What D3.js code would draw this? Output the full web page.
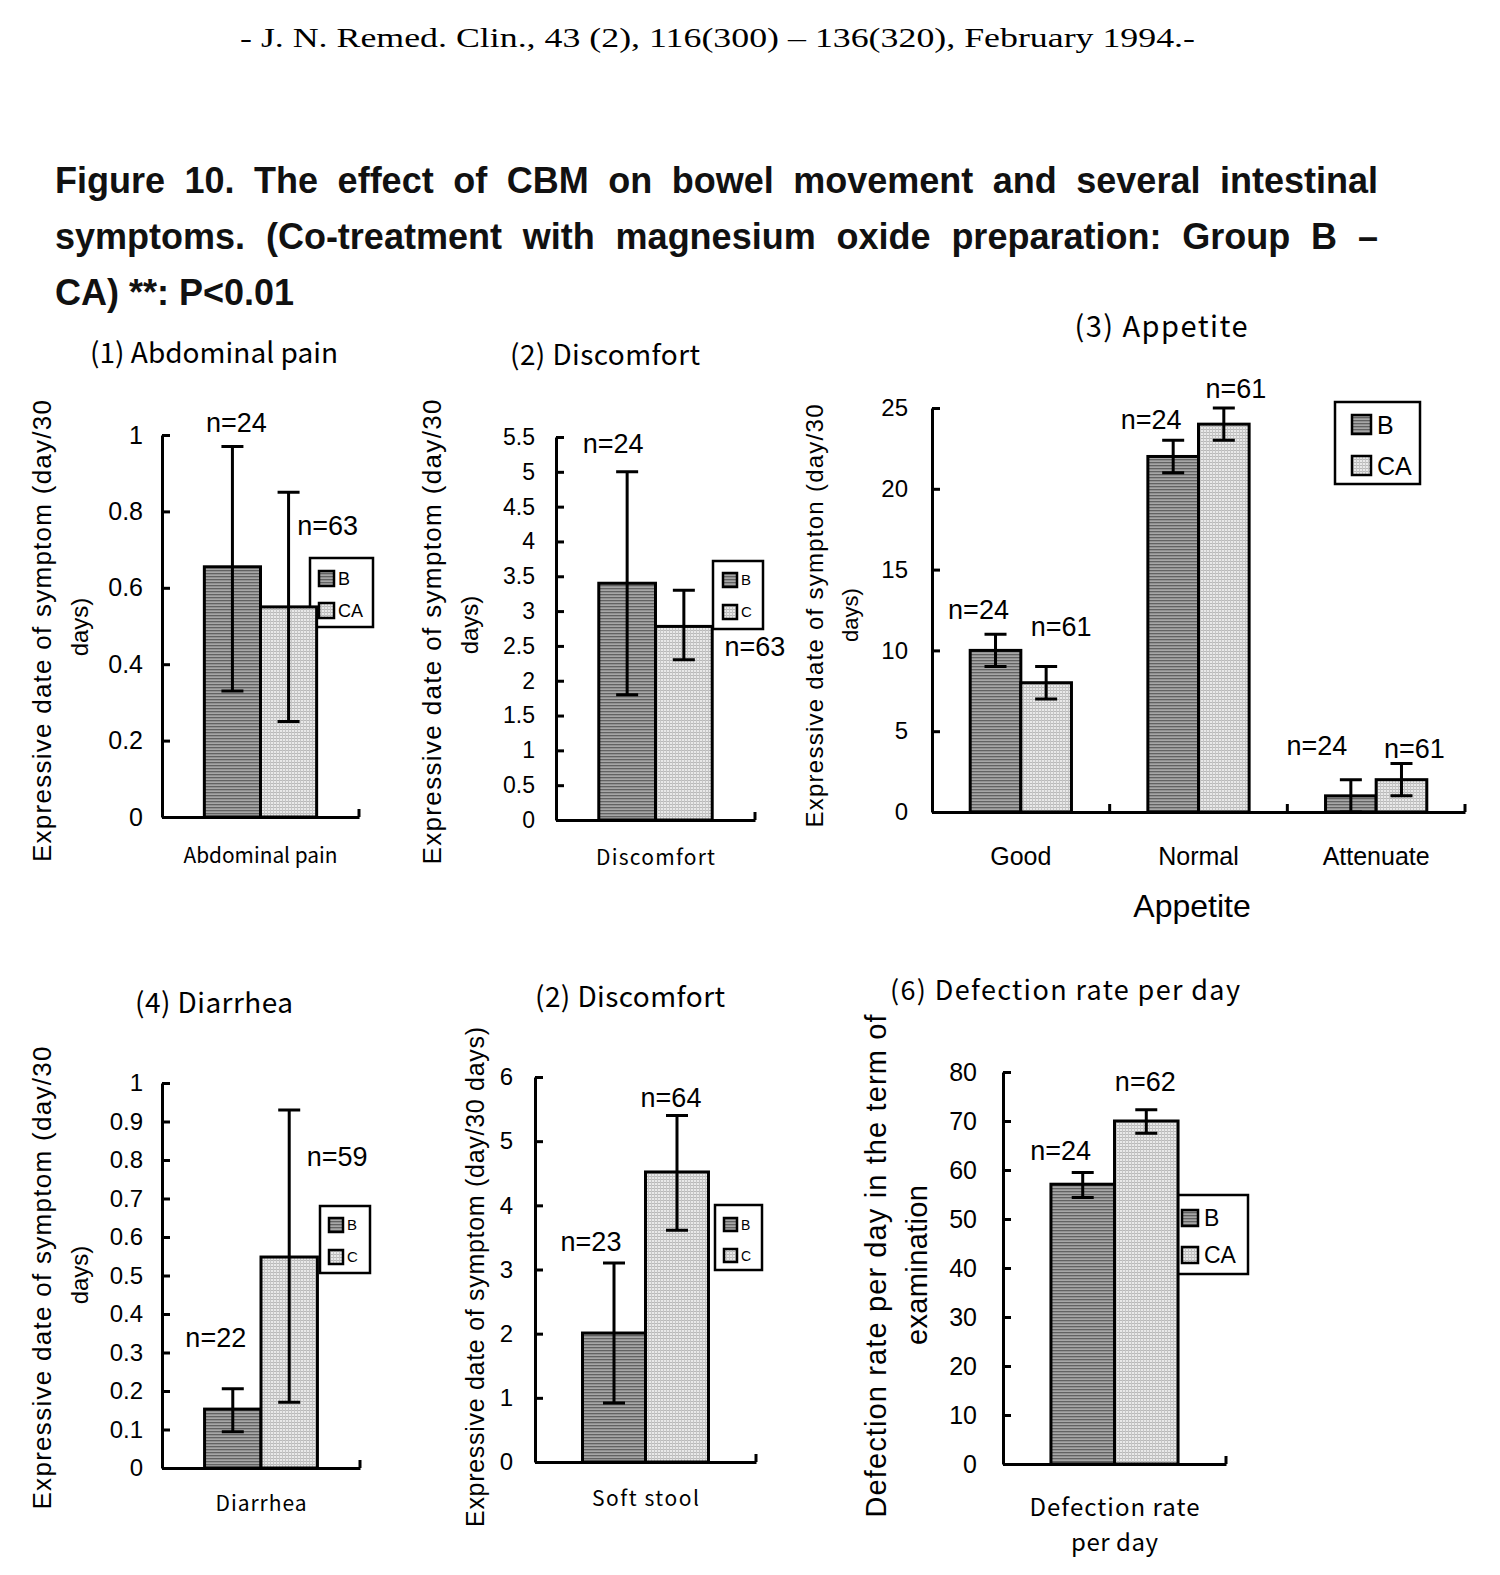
<!DOCTYPE html>
<html><head><meta charset="utf-8">
<script src="https://cdn.jsdelivr.net/npm/d3@7"></script>
<style>body{margin:0;background:#fff}</style>
</head><body>
<svg id="c" width="1500" height="1575" xmlns="http://www.w3.org/2000/svg"></svg>
<script>
// ---------------- DATA ----------------
const headerText = "- J. N. Remed. Clin., 43 (2), 116(300) – 136(320), February 1994.-";
const titleLines = [
  "Figure 10. The effect of CBM on bowel movement and several intestinal",
  "symptoms. (Co-treatment with magnesium oxide preparation: Group B –",
  "CA) **: P<0.01"
];
const seriesKeys = ["B", "CA"];
const legendLabelsLong = ["B", "CA"];
const legendLabelsShort = ["B", "C"];

// (1) Abdominal pain
const abdominalCategories = ["Abdominal pain"];
const abdominalB = [0.655], abdominalCA = [0.55];
const abdominalBLow = [0.33], abdominalBHigh = [0.97];
const abdominalCALow = [0.25], abdominalCAHigh = [0.85];
const abdominalBN = ["n=24"], abdominalCAN = ["n=63"];
const abdominalTicks = [0, 0.2, 0.4, 0.6, 0.8, 1];

// (2) Discomfort
const discomfortCategories = ["Discomfort"];
const discomfortB = [3.4], discomfortCA = [2.78];
const discomfortBLow = [1.8], discomfortBHigh = [5.0];
const discomfortCALow = [2.3], discomfortCAHigh = [3.3];
const discomfortBN = ["n=24"], discomfortCAN = ["n=63"];
const discomfortTicks = [0, 0.5, 1, 1.5, 2, 2.5, 3, 3.5, 4, 4.5, 5, 5.5];

// (3) Appetite
const appetiteCategories = ["Good", "Normal", "Attenuate"];
const appetiteB = [10, 22, 1], appetiteCA = [8, 24, 2];
const appetiteBLow = [9, 21, 0], appetiteBHigh = [11, 23, 2];
const appetiteCALow = [7, 23, 1], appetiteCAHigh = [9, 25, 3];
const appetiteBN = ["n=24", "n=24", "n=24"], appetiteCAN = ["n=61", "n=61", "n=61"];
const appetiteTicks = [0, 5, 10, 15, 20, 25];

// (4) Diarrhea
const diarrheaCategories = ["Diarrhea"];
const diarrheaB = [0.153], diarrheaCA = [0.548];
const diarrheaBLow = [0.094], diarrheaBHigh = [0.206];
const diarrheaCALow = [0.171], diarrheaCAHigh = [0.93];
const diarrheaBN = ["n=22"], diarrheaCAN = ["n=59"];
const diarrheaTicks = [0, 0.1, 0.2, 0.3, 0.4, 0.5, 0.6, 0.7, 0.8, 0.9, 1];

// (5) Soft stool
const softCategories = ["Soft stool"];
const softB = [2.01], softCA = [4.52];
const softBLow = [0.92], softBHigh = [3.1];
const softCALow = [3.61], softCAHigh = [5.4];
const softBN = ["n=23"], softCAN = ["n=64"];
const softTicks = [0, 1, 2, 3, 4, 5, 6];

// (6) Defection rate
const defectionCategories = ["Defection rate per day"];
const defectionB = [57.1], defectionCA = [70.0];
const defectionBLow = [54.4], defectionBHigh = [59.5];
const defectionCALow = [67.5], defectionCAHigh = [72.3];
const defectionBN = ["n=24"], defectionCAN = ["n=62"];
const defectionTicks = [0, 10, 20, 30, 40, 50, 60, 70, 80];

// ---------------- DRAWING ----------------
const svg = d3.select("#c");
const SANS = "'Liberation Sans', Arial, sans-serif";
const JP = "'Noto Sans CJK JP', 'Noto Sans', sans-serif";
const defs = svg.append("defs");
const pB = defs.append("pattern").attr("id", "patB").attr("patternUnits", "userSpaceOnUse").attr("width", 3).attr("height", 3);
pB.append("rect").attr("width", 3).attr("height", 3).attr("fill", "#a6a6a6");
pB.append("rect").attr("width", 3).attr("height", 1.3).attr("fill", "#626262");
const pC = defs.append("pattern").attr("id", "patC").attr("patternUnits", "userSpaceOnUse").attr("width", 3).attr("height", 3);
pC.append("rect").attr("width", 3).attr("height", 3).attr("fill", "#e9e9e9");
pC.append("rect").attr("width", 3).attr("height", 1).attr("fill", "#b9b9b9");
pC.append("rect").attr("width", 1).attr("height", 3).attr("fill", "#c6c6c6");
const patterns = ["patB", "patC"];

svg.append("rect").attr("width", 1500).attr("height", 1575).attr("fill", "#fff");

// header
svg.append("text").attr("x", 240).attr("y", 47).attr("font-family", "'Liberation Serif', 'DejaVu Serif', serif")
  .attr("font-size", 28).attr("textLength", 955).attr("lengthAdjust", "spacingAndGlyphs").text(headerText);

// title (justified lines 1 & 2)
const titleBase = [193, 249, 305];
titleLines.forEach((t, i) => {
  const el = svg.append("text").attr("x", 55).attr("y", titleBase[i]).attr("font-family", SANS)
    .attr("font-weight", "bold").attr("font-size", 36).attr("fill", "#111").text(t);
  if (i < 2) {
    const w = el.node().getComputedTextLength();
    const spaces = (t.match(/ /g) || []).length;
    const ws = (1323 - w) / spaces;
    if (ws > 0) el.attr("word-spacing", ws.toFixed(2));
    else el.attr("textLength", 1323).attr("lengthAdjust", "spacingAndGlyphs");
  }
});

function fitText(el, len) {
  if (!len) return;
  const w = el.node().getComputedTextLength();
  if (w < len) el.attr("textLength", len).attr("lengthAdjust", "spacing");
  else el.attr("textLength", len).attr("lengthAdjust", "spacingAndGlyphs");
}

function rotLabel(g, x, y, txt, fs, len) {
  const el = g.append("text").attr("transform", `translate(${x},${y}) rotate(-90)`).attr("dy", "0.35em")
    .attr("text-anchor", "middle").attr("font-family", SANS).attr("font-size", fs).text(txt);
  fitText(el, len);
}

function drawChart(c) {
  const g = svg.append("g");
  const y = d3.scaleLinear().domain([0, c.ticks[c.ticks.length - 1]]).range([c.yBot, c.yTop]);
  const x0 = d3.scaleBand().domain(c.categories).range([c.xL, c.xR]).paddingInner(0.43).paddingOuter(0.215);
  const x1 = d3.scaleBand().domain(seriesKeys).range([0, x0.bandwidth()]);

  // subtitle
  const st = g.append("text").attr("x", c.title[1]).attr("y", c.title[2]).attr("dy", "0.36em").attr("text-anchor", "middle")
    .attr("font-family", JP).attr("font-size", c.title[3]).text(c.title[0]);
  fitText(st, c.title[4]);

  // legend (drawn under bars)
  const L = c.legend;
  g.append("rect").attr("x", L.x).attr("y", L.y).attr("width", L.w).attr("height", L.h)
    .attr("fill", "#fff").attr("stroke", "#000").attr("stroke-width", 2.5);
  L.labels.forEach((lab, i) => {
    g.append("rect").attr("x", L.sx).attr("y", L.sy[i]).attr("width", L.ss).attr("height", L.ss)
      .attr("fill", `url(#${patterns[i]})`).attr("stroke", "#000").attr("stroke-width", 2.5);
    g.append("text").attr("x", L.tx).attr("y", L.sy[i] + L.ss / 2).attr("dy", "0.36em")
      .attr("font-family", SANS).attr("font-size", L.fs).text(lab);
  });

  // bars
  c.series.forEach((s, si) => {
    const rows = c.categories.map((cat, i) => ({ cat, v: s.values[i], lo: s.low[i], hi: s.high[i], n: s.n[i], off: s.off[i] }));
    const cx = d => x0(d.cat) + x1(seriesKeys[si]) + x1.bandwidth() / 2;
    g.selectAll(null).data(rows).join("rect")
      .attr("x", d => x0(d.cat) + x1(seriesKeys[si])).attr("y", d => y(d.v))
      .attr("width", x1.bandwidth()).attr("height", d => y(0) - y(d.v))
      .attr("fill", `url(#${patterns[si]})`).attr("stroke", "#000").attr("stroke-width", 3);
    // error bars
    g.selectAll(null).data(rows).join("path")
      .attr("d", d => `M${cx(d)},${y(d.lo)}V${y(d.hi)}M${cx(d) - 11},${y(d.lo)}h22M${cx(d) - 11},${y(d.hi)}h22`)
      .attr("stroke", "#000").attr("stroke-width", 3).attr("fill", "none");
    // n labels
    g.selectAll(null).data(rows).join("text")
      .attr("x", d => cx(d) + d.off[0]).attr("y", d => y(d.hi) + d.off[1]).attr("dy", "0.36em")
      .attr("text-anchor", "middle").attr("font-family", SANS).attr("font-size", c.nfs).text(d => d.n);
  });

  // y axis
  const ya = d3.axisLeft(y).tickValues(c.ticks).tickSizeInner(-8).tickSizeOuter(0).tickPadding(c.tickPad).tickFormat(d => String(d));
  const yg = g.append("g").attr("transform", `translate(${c.xL},0)`).call(ya);
  yg.selectAll("path,line").attr("stroke", "#000").attr("stroke-width", 3);
  yg.selectAll("text").attr("font-family", SANS).attr("font-size", c.tfs).attr("fill", "#000");

  // x axis
  const xa = d3.axisBottom(x0).tickSize(0).tickFormat("");
  const xg = g.append("g").attr("transform", `translate(0,${c.yBot})`).call(xa);
  xg.select("path").attr("stroke", "#000").attr("stroke-width", 3);
  xg.selectAll(".tick").remove();
  g.selectAll(null).data(c.categories).join("line")
    .attr("x1", d => x0(d) + x0.bandwidth() / 2 + x0.step() / 2).attr("x2", d => x0(d) + x0.bandwidth() / 2 + x0.step() / 2)
    .attr("y1", c.yBot).attr("y2", c.yBot - 8).attr("stroke", "#000").attr("stroke-width", 3);

  // category labels
  const lh = c.catLH || 0;
  c.categories.forEach((cat, i) => {
    const lines = c.catLines ? c.catLines[i] : [cat];
    lines.forEach((ln, j) => {
      const el = g.append("text").attr("x", x0(cat) + x0.bandwidth() / 2).attr("y", c.catY + j * lh).attr("dy", "0.36em")
        .attr("text-anchor", "middle").attr("font-family", c.catFont || JP).attr("font-size", c.cfs).text(ln);
      if (c.catLen) fitText(el, c.catLen[i][j]);
    });
  });

  // y labels
  c.ylab.forEach(l => rotLabel(g, l[1], l[2], l[0], l[3], l[4]));
  if (c.xTitle) g.append("text").attr("x", c.xTitle[1]).attr("y", c.xTitle[2]).attr("dy", "0.36em").attr("text-anchor", "middle")
    .attr("font-family", SANS).attr("font-size", c.xTitle[3]).text(c.xTitle[0]);
}

const ylabAbd = "Expressive date of symptom (day/30";

drawChart({
  categories: abdominalCategories, ticks: abdominalTicks,
  series: [
    { values: abdominalB, low: abdominalBLow, high: abdominalBHigh, n: abdominalBN, off: [[4, -24]] },
    { values: abdominalCA, low: abdominalCALow, high: abdominalCAHigh, n: abdominalCAN, off: [[39, 33]] }],
  xL: 162, xR: 359, yBot: 817, yTop: 435, tickPad: 19, tfs: 25, nfs: 27, cfs: 21, catY: 855, catLen: [[154]],
  title: ["(1) Abdominal pain", 214, 353, 28, 248],
  legend: { x: 310, y: 558, w: 63, h: 69, sx: 319, sy: [571, 603], ss: 15, tx: 338, fs: 18, labels: legendLabelsLong },
  ylab: [[ylabAbd, 42, 631, 26, 462], ["days)", 80, 627, 24]]
});

drawChart({
  categories: discomfortCategories, ticks: discomfortTicks,
  series: [
    { values: discomfortB, low: discomfortBLow, high: discomfortBHigh, n: discomfortBN, off: [[-14, -29]] },
    { values: discomfortCA, low: discomfortCALow, high: discomfortCAHigh, n: discomfortCAN, off: [[71, 56]] }],
  xL: 556, xR: 755, yBot: 820, yTop: 437, tickPad: 21, tfs: 23, nfs: 27, cfs: 21, catY: 857, catLen: [[119]],
  title: ["(2) Discomfort", 605, 355, 28, 190],
  legend: { x: 713, y: 561, w: 50, h: 68, sx: 723, sy: [573, 605], ss: 14, tx: 741, fs: 15, labels: legendLabelsShort },
  ylab: [[ylabAbd, 432, 632, 26, 465], ["days)", 470, 625, 24]]
});

drawChart({
  categories: appetiteCategories, ticks: appetiteTicks,
  series: [
    { values: appetiteB, low: appetiteBLow, high: appetiteBHigh, n: appetiteBN, off: [[-17, -25], [-22, -21], [-34, -34]] },
    { values: appetiteCA, low: appetiteCALow, high: appetiteCAHigh, n: appetiteCAN, off: [[15, -40], [12, -20], [13, -15]] }],
  xL: 932, xR: 1465, yBot: 812, yTop: 408, tickPad: 24, tfs: 24, nfs: 27, cfs: 25, catY: 856, catFont: SANS,
  title: ["(3) Appetite", 1161, 327, 29, 173],
  legend: { x: 1335, y: 402, w: 85, h: 82, sx: 1352, sy: [415, 456], ss: 19, tx: 1377, fs: 25, labels: legendLabelsLong },
  ylab: [["Expressive date of sympton (day/30", 815, 616, 24, 423], ["days)", 850, 615, 22]],
  xTitle: ["Appetite", 1192, 905, 32]
});

drawChart({
  categories: diarrheaCategories, ticks: diarrheaTicks,
  series: [
    { values: diarrheaB, low: diarrheaBLow, high: diarrheaBHigh, n: diarrheaBN, off: [[-17, -51]] },
    { values: diarrheaCA, low: diarrheaCALow, high: diarrheaCAHigh, n: diarrheaCAN, off: [[48, 46]] }],
  xL: 162, xR: 360, yBot: 1468, yTop: 1083, tickPad: 19, tfs: 24, nfs: 27, cfs: 21, catY: 1503, catLen: [[91]],
  title: ["(4) Diarrhea", 214, 1003, 28, 158],
  legend: { x: 320, y: 1206, w: 50, h: 67, sx: 329, sy: [1218, 1250], ss: 14, tx: 347, fs: 15, labels: legendLabelsShort },
  ylab: [[ylabAbd, 42, 1278, 26, 463], ["days)", 80, 1275, 24]]
});

drawChart({
  categories: softCategories, ticks: softTicks,
  series: [
    { values: softB, low: softBLow, high: softBHigh, n: softBN, off: [[-23, -22]] },
    { values: softCA, low: softCALow, high: softCAHigh, n: softCAN, off: [[-6, -18]] }],
  xL: 535, xR: 756, yBot: 1462, yTop: 1077, tickPad: 22, tfs: 24, nfs: 27, cfs: 21, catY: 1498, catLen: [[107]],
  title: ["(2) Discomfort", 630, 997, 28, 190],
  legend: { x: 715, y: 1205, w: 47, h: 65, sx: 724, sy: [1218, 1249], ss: 13, tx: 741, fs: 14, labels: legendLabelsShort },
  ylab: [["Expressive date of symptom (day/30 days)", 475, 1277, 25, 500]]
});

drawChart({
  categories: defectionCategories, ticks: defectionTicks,
  series: [
    { values: defectionB, low: defectionBLow, high: defectionBHigh, n: defectionBN, off: [[-22, -22]] },
    { values: defectionCA, low: defectionCALow, high: defectionCAHigh, n: defectionCAN, off: [[-1, -28]] }],
  xL: 1003, xR: 1226, yBot: 1464, yTop: 1072, tickPad: 26, tfs: 25, nfs: 27, cfs: 24, catY: 1507, catLH: 35,
  catLines: [["Defection rate", "per day"]], catFont: JP, catLen: [[170, 87]],
  title: ["(6) Defection rate per day", 1065, 990, 27, 350],
  legend: { x: 1172, y: 1195, w: 76, h: 79, sx: 1182, sy: [1210, 1247], ss: 16, tx: 1204, fs: 23, labels: legendLabelsLong },
  ylab: [["Defection rate per day in the term of", 876, 1266, 29, 503], ["examination", 917, 1265, 29, 160]]
});
</script>
</body></html>
